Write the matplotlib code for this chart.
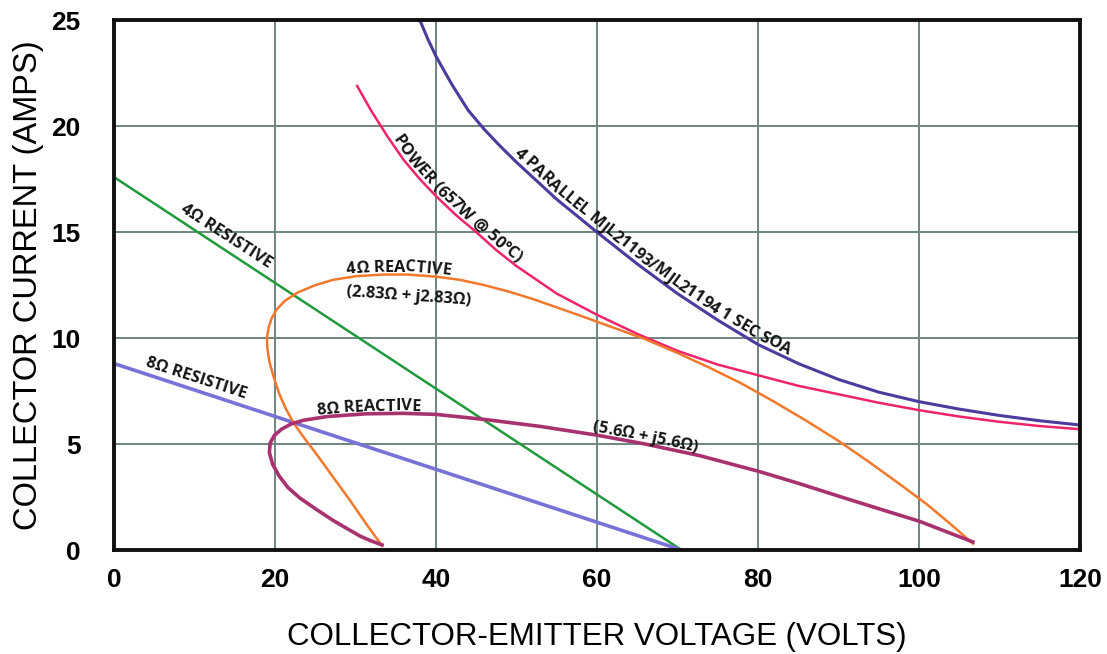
import numpy as np
import matplotlib.pyplot as plt
from matplotlib.font_manager import FontProperties, findfont, get_font
from matplotlib.transforms import IdentityTransform

# Ось X: напряжение коллектор-эмиттер (В), ось Y: ток коллектора (А)
xTicks = [0, 20, 40, 60, 80, 100, 120]
yTicks = [0, 5, 10, 15, 20, 25]

# Линии нагрузки (резистивные)
res4V = [0, 70.5]
res4I = [17.6, 0]
res8V = [0, 70.5]
res8I = [8.8, 0]

# Кривая мощности 657 Вт
powerV = [30.2, 32, 34, 36, 38, 40, 42.5, 45, 47.5, 50, 55, 60, 65, 70, 75, 80, 85, 90, 95, 100, 105, 110, 115, 120]
powerI = [21.9, 20.7, 19.5, 18.4, 17.5, 16.7, 15.8, 15.0, 14.15, 13.4, 12.1, 11.1, 10.2, 9.4, 8.75, 8.25,
          7.75, 7.35, 6.95, 6.6, 6.3, 6.05, 5.85, 5.7]

# Область безопасной работы (SOA)
soaV = [38, 39, 40, 42, 44, 46, 48, 50, 55, 60, 65, 70, 75, 80, 85, 90, 95, 100, 105, 110, 115, 120]
soaI = [25.0, 24.1, 23.3, 21.95, 20.75, 19.85, 19.05, 18.3, 16.55, 15.0, 13.5, 12.1, 10.85, 9.7, 8.8,
        8.05, 7.45, 7.0, 6.65, 6.35, 6.1, 5.9]

# 4 Ом реактивная нагрузка
react4V = [33.3, 31.3, 29.3, 27.2, 25.2, 23.6, 22.3, 21.3, 20.5, 19.8, 19.3, 19.05, 19.0, 19.2, 19.6, 20.2,
           21.2, 22.8, 25.0, 27.2, 30.0, 33.4, 36.5, 40, 43, 46, 49, 52, 55, 58, 62, 66, 70, 74, 78, 82,
           86, 90, 94, 98, 101, 104, 106.7]
react4I = [0.2, 1.25, 2.35, 3.45, 4.5, 5.3, 6.0, 6.7, 7.4, 8.2, 8.9, 9.5, 10.0, 10.5, 10.95, 11.35,
           11.75, 12.15, 12.5, 12.75, 12.92, 13.0, 13.0, 12.9, 12.75, 12.5, 12.2, 11.85, 11.45, 11.05,
           10.5, 9.95, 9.3, 8.6, 7.85, 7.0, 6.1, 5.15, 4.1, 3.0, 2.15, 1.2, 0.3]

# 8 Ом реактивная нагрузка
react8V = [33.3, 31.8, 30.6, 29.0, 27.2, 25.2, 23.1, 21.6, 20.5, 19.7, 19.3, 19.4, 19.9, 20.8, 22.0, 23.5,
           26.5, 31.4, 36.0, 40.0, 46.3, 53.0, 60.0, 66.0, 72.8, 80.2, 85.0, 90.2, 95.0, 100.1, 103.5, 106.7]
react8I = [0.24, 0.45, 0.65, 1.0, 1.4, 1.9, 2.45, 2.95, 3.5, 4.05, 4.6, 5.05, 5.4, 5.7, 5.95, 6.12,
           6.3, 6.43, 6.45, 6.4, 6.15, 5.83, 5.42, 5.0, 4.45, 3.7, 3.15, 2.52, 1.95, 1.35, 0.85, 0.38]

labelFont = ['Open Sans', 'DejaVu Sans']
axisFont = ['Liberation Sans', 'DejaVu Sans']
labelSize = 11.8
labelColor = '#141414'

fig = plt.figure(figsize=(11.07, 6.54), dpi=100)
ax = fig.add_axes([0.103, 0.159, 0.8726, 0.810])

ax.set_xlim(0, 120)
ax.set_ylim(0, 25)
ax.set_xticks(xTicks)
ax.set_yticks(yTicks)
ax.grid(True, color='#6f8580', linewidth=1.4)
ax.set_axisbelow(True)
for spine in ax.spines.values():
    spine.set_linewidth(2.8)
    spine.set_color('#111111')
ax.tick_params(length=0, labelsize=19)
ax.tick_params(axis='x', pad=13)
ax.tick_params(axis='y', pad=24)
for lbl in ax.get_xticklabels() + ax.get_yticklabels():
    lbl.set_family(axisFont)
    lbl.set_fontweight('bold')


# Пишет текст по буквам вдоль кривой (xs должен возрастать)
def curvedText(text, xs, ys, startX, offset):
    prop = FontProperties(family=labelFont, weight='bold', size=labelSize)
    font = get_font(findfont(prop))
    font.set_size(labelSize, fig.dpi)
    advances = [font.load_char(ord(ch)).linearHoriAdvance / 65536 for ch in text]

    pts = ax.transData.transform(np.column_stack([xs, ys]))
    cum = np.concatenate([[0], np.cumsum(np.hypot(np.diff(pts[:, 0]), np.diff(pts[:, 1])))])
    i = np.searchsorted(xs, startX) - 1
    p0 = ax.transData.transform((startX, np.interp(startX, xs, ys)))
    s = cum[i] + np.hypot(*(p0 - pts[i]))

    for ch, adv in zip(text, advances):
        sc = s + adv / 2
        x = np.interp(sc, cum, pts[:, 0])
        y = np.interp(sc, cum, pts[:, 1])
        xa, ya = np.interp(sc - 8, cum, pts[:, 0]), np.interp(sc - 8, cum, pts[:, 1])
        xb, yb = np.interp(sc + 8, cum, pts[:, 0]), np.interp(sc + 8, cum, pts[:, 1])
        ang = np.arctan2(yb - ya, xb - xa)
        ax.text(x - np.sin(ang) * offset, y + np.cos(ang) * offset, ch,
                transform=IdentityTransform(), rotation=np.degrees(ang),
                ha='center', va='baseline', rotation_mode='anchor',
                family=labelFont, fontweight='bold', fontsize=labelSize, color=labelColor)
        s += adv


# Кривые
ax.plot(res4V, res4I, color='#1f9a3c', lw=1.8)
ax.plot(res8V, res8I, color='#7773d6', lw=2.6)
ax.plot(powerV, powerI, color='#f0246c', lw=1.8)
ax.plot(soaV, soaI, color='#4b3c9e', lw=2.2)
ax.plot(react4V, react4I, color='#f2792c', lw=1.8)
ax.plot(react8V, react8I, color='#a8326f', lw=2.6)

# Подписи кривых
txt = dict(family=labelFont, fontweight='bold', fontsize=labelSize, color=labelColor,
           ha='center', va='center', rotation_mode='anchor')
ax.text(13.9, 14.8, '4Ω RESISTIVE', rotation=-33, **txt)
ax.text(10.2, 8.1, '8Ω RESISTIVE', rotation=-18, **txt)
ax.text(36.6, 11.95, '(2.83Ω + j2.83Ω)', rotation=-4, **txt)

top4 = int(np.argmin(react4V[5:30])) + 5
top8 = int(np.argmin(react8V[5:20])) + 5
curvedText('POWER (657W @ 50°C)', powerV, powerI, 34.3, 3)
curvedText('4 PARALLEL MJL21193/MJL21194 1 SEC SOA', soaV, soaI, 49.3, 4)
curvedText('4Ω REACTIVE', react4V[top4:], react4I[top4:], 29.0, 3)
curvedText('8Ω REACTIVE', react8V[top8:], react8I[top8:], 25.3, 3)
curvedText('(5.6Ω + j5.6Ω)', react8V[top8:], react8I[top8:], 59.3, 3)

ax.set_xlabel('COLLECTOR-EMITTER VOLTAGE (VOLTS)', family=axisFont, fontsize=22.5, labelpad=21.5)
ax.set_ylabel('COLLECTOR CURRENT (AMPS)', family=axisFont, fontsize=23.5, labelpad=5)

fig.savefig('out.png', dpi=100)
